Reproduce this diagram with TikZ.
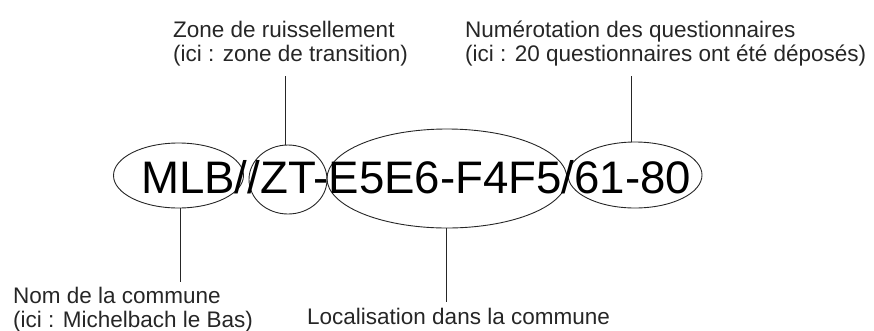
\documentclass[tikz,border=0pt]{standalone}
\usepackage{fontspec}
\setmainfont{Liberation Sans}
\usetikzlibrary{shapes.geometric}
\begin{document}
\begin{tikzpicture}[x=1pt,y=-1pt,
  ell/.style={draw=black!85, line width=0.9pt, ellipse, inner sep=0pt},
  conn/.style={draw=black!85, line width=0.9pt},
  lbl/.style={inner sep=0pt, anchor=base west, align=left, text=black!85, font=\fontsize{22.5}{24}\selectfont}]
\useasboundingbox (0,0) rectangle (874,330);
% ellipses
\node[ell, minimum width=130pt, minimum height=65pt] (mlb) at (178.5,175.5) {};
\node[ell, minimum width=78pt, minimum height=69pt] (zt) at (288,179.5) {};
\node[ell, minimum width=240pt, minimum height=99pt] (loc) at (447,178.5) {};
\node[ell, minimum width=134pt, minimum height=66pt] (num) at (635,175) {};
% main code
\node[inner sep=0pt, anchor=base west, font=\fontsize{45.6}{54}\selectfont] (code) at (141,193) {MLB//ZT-E5E6-F4F5/61-80};
% labels (anchor = baseline of last line)
\node[lbl] (lzone) at (173,61) {Zone de ruissellement\\(ici : zone de transition)};
\node[lbl] (lnum) at (465,61) {Numérotation des questionnaires\\(ici : 20 questionnaires ont été déposés)};
\node[lbl] (lnom) at (13,327) {Nom de la commune\\(ici : Michelbach le Bas)};
\node[lbl] (lloc) at (307,324) {Localisation dans la commune};
% free ends
\coordinate (czone) at (285,76);
\coordinate (cnum) at (631,76);
\coordinate (cnom) at (180,282);
\coordinate (cloc) at (446,302);
% connectors
\draw[conn] (zt.north -| czone) -- (czone);
\draw[conn] (num.north -| cnum) -- (cnum);
\draw[conn] (mlb.south -| cnom) -- (cnom);
\draw[conn] (loc.south -| cloc) -- (cloc);
\end{tikzpicture}
\end{document}
